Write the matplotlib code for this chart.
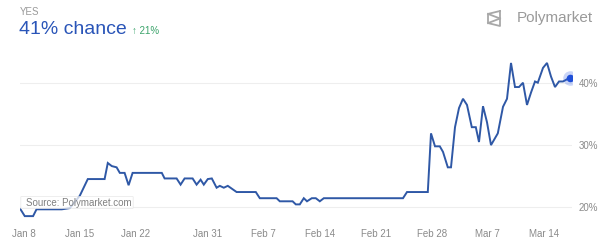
import matplotlib
matplotlib.use("Agg")
import matplotlib.pyplot as plt
from matplotlib.lines import Line2D
from matplotlib.patches import FancyBboxPatch

plt.rcParams['font.family'] = ['Liberation Sans', 'DejaVu Sans']

# Dias contados a partir de 8 de janeiro, valores em %
days = [-0.41, 0.12, 1.16, 1.59, 4.75, 5.75, 7.0, 8.0, 10.1, 10.5, 11.0, 11.6,
        12.0, 12.6, 13.1, 13.6, 17.25, 17.6, 19.1, 19.6, 20.1, 21.1, 21.6, 22.1,
        22.5, 23.0, 23.5, 24.1, 24.5, 25.0, 25.5, 26.6, 29.0, 29.5, 31.6, 32.0,
        33.6, 34.0, 34.5, 35.0, 35.4, 36.0, 36.5, 37.0, 37.5, 47.4, 47.9, 50.5,
        50.9, 51.4, 52.0, 52.4, 53.0, 53.4, 53.9, 54.4, 54.9, 55.4, 56.0, 56.5,
        56.9, 57.4, 57.9, 58.4, 59.25, 59.9, 60.4, 60.9, 61.4, 61.9, 62.4, 62.9,
        63.4, 63.9, 64.25, 64.9, 65.4, 65.9, 66.4, 66.9, 67.4, 68.25]
chance = [19.6, 18.5, 18.5, 19.6, 19.6, 19.8, 21.8, 24.5, 24.5, 27.1, 26.6, 26.4,
          25.5, 25.5, 23.5, 25.5, 25.5, 24.6, 24.6, 23.6, 24.6, 24.6, 23.6, 24.4,
          23.6, 24.5, 24.6, 23.1, 23.4, 23.1, 23.4, 22.4, 22.4, 21.4, 21.4, 20.9,
          20.9, 20.4, 20.4, 21.4, 20.9, 21.4, 21.4, 20.9, 21.4, 21.4, 22.4, 22.4,
          31.9, 29.8, 29.8, 28.9, 26.4, 26.4, 32.9, 36.0, 37.5, 36.5, 32.9, 32.9,
          30.5, 36.3, 33.7, 30.0, 31.9, 36.2, 37.5, 43.3, 39.4, 39.4, 40.1, 36.5,
          38.5, 40.3, 40.1, 42.5, 43.3, 41.1, 39.4, 40.3, 40.3, 40.9]

tick_days = [0, 7, 14, 23, 30, 37, 44, 51, 58, 65]
tick_labels = ['Jan 8', 'Jan 15', 'Jan 22', 'Jan 31', 'Feb 7', 'Feb 14',
               'Feb 21', 'Feb 28', 'Mar 7', 'Mar 14']
y_ticks = [20, 30, 40]

BLUE = '#2f58a6'
GREY = '#8a8a8a'

fig = plt.figure(figsize=(6, 2.43), dpi=100, facecolor='white')
ax = fig.add_axes([0.033, 0.103, 0.92, 0.671])
ax.set_xlim(-0.5, 68.5)
ax.set_ylim(18.2, 44.6)

for v in y_ticks:
    ax.axhline(v, color='#eeeeee', lw=0.8, zorder=0)

ax.plot(days, chance, color=BLUE, lw=1.4, zorder=3, solid_joinstyle='miter')
ax.scatter([days[-1]], [chance[-1]], s=110, color='#2d5be3', alpha=0.25, zorder=4, lw=0)
ax.scatter([days[-1]], [chance[-1]], s=30, color='#1f4fd8', zorder=5, lw=0)

for s in ax.spines.values():
    s.set_visible(False)
ax.set_xticks(tick_days)
ax.set_xticklabels(tick_labels)
ax.yaxis.tick_right()
ax.set_yticks(y_ticks)
ax.set_yticklabels([f'{v}%' for v in y_ticks])
ax.tick_params(axis='both', length=0, labelsize=7, labelcolor=GREY)
ax.tick_params(axis='x', pad=8)
ax.tick_params(axis='y', pad=5)

# Caixa da fonte
box = FancyBboxPatch((22 / 600, 1 - 208 / 243), 110 / 600, 11 / 243,
                     boxstyle='round,pad=0.002', transform=fig.transFigure,
                     facecolor='white', edgecolor='#e4e4e4', alpha=0.75, lw=0.6, zorder=6)
fig.add_artist(box)
fig.text(26 / 600, 1 - 202.5 / 243, 'Source: Polymarket.com', fontsize=7,
         color='#808080', va='center', ha='left', zorder=7)

# Cabeçalho
fig.text(20 / 600, 1 - 12 / 243, 'YES', fontsize=7, color='#999999', va='center')
fig.text(19 / 600, 1 - 30 / 243, '41% chance', fontsize=14, color='#2a55b8', va='center')
fig.text(132 / 600, 1 - 31 / 243, '↑ 21%', fontsize=7, color='#3aa36a', va='center')

# Logo Polymarket
lx0, lx1, ly0, ly1 = 488 / 600, 500 / 600, 1 - 26 / 243, 1 - 11 / 243
ym = (ly0 + ly1) / 2
for xs, ys in [([lx1, lx0, lx0, lx1, lx1], [ly1, ly1 - 0.012, ly0 + 0.012, ly0, ly1]),
               ([lx0, lx1], [ly1 - 0.012, ym]), ([lx1, lx0], [ym, ly0 + 0.012])]:
    fig.add_artist(Line2D(xs, ys, transform=fig.transFigure, color='#a8a8a8', lw=1.3))
fig.text(517 / 600, 1 - 18 / 243, 'Polymarket', fontsize=11, color='#9a9a9a', va='center')

fig.savefig('out.png', dpi=100, facecolor='white')
